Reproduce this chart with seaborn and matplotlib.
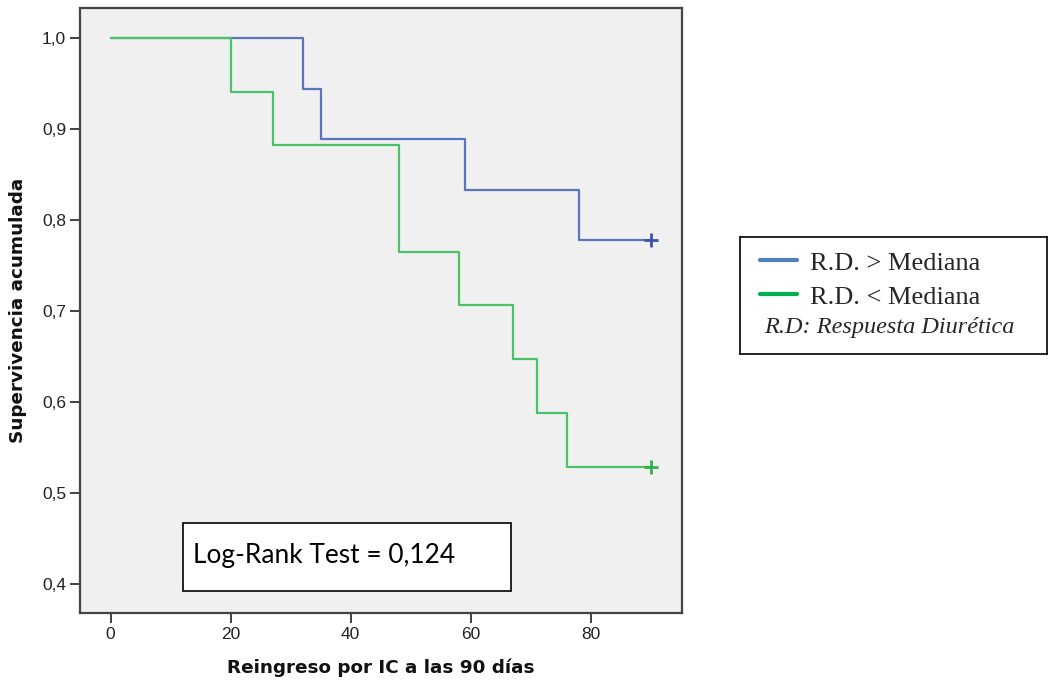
import matplotlib
matplotlib.use("Agg")
import matplotlib.pyplot as plt
from matplotlib.patches import Rectangle
from matplotlib.lines import Line2D
from matplotlib import font_manager
import seaborn as sns
import pandas as pd

# Kaplan-Meier step data (time in days, cumulative survival)
time_high = [0, 32, 35, 59, 78, 90]
surv_high = [1.0, 0.944, 0.889, 0.833, 0.778, 0.778]
time_low = [0, 20, 27, 48, 58, 67, 71, 76, 90]
surv_low = [1.0, 0.941, 0.882, 0.765, 0.706, 0.647, 0.588, 0.529, 0.529]
censor_time = [90, 90]
censor_surv = [0.778, 0.529]

groups = ["R.D. > Mediana", "R.D. < Mediana"]
x_ticks = [0, 20, 40, 60, 80]
y_ticks = [0.4, 0.5, 0.6, 0.7, 0.8, 0.9, 1.0]
log_rank_text = "Log-Rank Test = 0,124"
note_text = "R.D: Respuesta Diurética"

line_colors = ["#5a74bd", "#4cc168"]
censor_colors = ["#3a55a8", "#2fb04f"]
legend_colors = ["#4f81bd", "#00b050"]

sns.set_theme(style="white")
plt.rcParams["font.family"] = ["Liberation Sans", "DejaVu Sans"]

installed = {f.name for f in font_manager.fontManager.ttflist}
tick_family = ["Liberation Sans Narrow", "Liberation Sans"] if "Liberation Sans Narrow" in installed \
    else ["Liberation Sans"]

fig = plt.figure(figsize=(10.48, 6.84), dpi=100)
ax = fig.add_axes([80 / 1048, 1 - 613 / 684, 602 / 1048, 605 / 684])
ax.set_facecolor("#f0f0f0")

df_high = pd.DataFrame({"t": time_high, "s": surv_high})
df_low = pd.DataFrame({"t": time_low, "s": surv_low})
sns.lineplot(data=df_high, x="t", y="s", drawstyle="steps-post", estimator=None,
             color=line_colors[0], lw=1.6, ax=ax)
sns.lineplot(data=df_low, x="t", y="s", drawstyle="steps-post", estimator=None,
             color=line_colors[1], lw=1.6, ax=ax)
for i in range(2):
    sns.scatterplot(x=[censor_time[i]], y=[censor_surv[i]], marker="+", s=90,
                    color=censor_colors[i], linewidth=2, ax=ax, zorder=5)

ax.set_xlim(-5.1, 95.2)
ax.set_ylim(0.368, 1.033)
ax.set_xticks(x_ticks)
ax.set_xticklabels([str(v) for v in x_ticks])
ax.set_yticks(y_ticks)
ax.set_yticklabels([f"{v:.1f}".replace(".", ",") for v in y_ticks])
ax.tick_params(axis="both", direction="out", length=7, width=1.3, color="#333333",
               labelsize=12.5, labelcolor="#222222", bottom=True, left=True, pad=3)
for lab in ax.get_xticklabels() + ax.get_yticklabels():
    lab.set_family(tick_family)
for side, sp in ax.spines.items():
    sp.set_visible(True)
    sp.set_color("#444444")
    sp.set_linewidth(1.6)

ax.set_xlabel("Reingreso por IC a las 90 días", fontsize=13.2, fontweight="bold",
              family=["DejaVu Sans"], color="#111111", labelpad=12)
ax.set_ylabel("Supervivencia acumulada", fontsize=13.2, fontweight="bold",
              family=["DejaVu Sans"], color="#111111", labelpad=11)

# Log-rank annotation box
ax.add_patch(Rectangle((183, 684 - 591), 328, 68, transform=None, facecolor="white",
                       edgecolor="black", lw=1.2, zorder=6))
fig.text(193 / 1048, 1 - 556 / 684, log_rank_text, fontsize=18.9, family=["Lato", "DejaVu Sans"],
         va="center", ha="left", color="black", zorder=7)

# Legend box
leg = fig.add_axes([740 / 1048, 1 - 354 / 684, 307 / 1048, 117 / 684])
leg.set_xlim(0, 307)
leg.set_ylim(117, 0)
leg.set_xticks([])
leg.set_yticks([])
for sp in leg.spines.values():
    sp.set_color("black")
    sp.set_linewidth(1.2)
leg.set_facecolor("white")
for i, (lbl, c) in enumerate(zip(groups, legend_colors)):
    yy = 23 + 34 * i
    leg.add_line(Line2D([20, 57], [yy, yy], color=c, lw=3))
    leg.text(70, yy + 4, lbl, fontsize=19, family=["Liberation Serif"], va="center", ha="left")
leg.text(24, 90, note_text, fontsize=17.5, family=["Liberation Serif"], style="italic",
         va="center", ha="left")

fig.savefig("out.png", dpi=100)
